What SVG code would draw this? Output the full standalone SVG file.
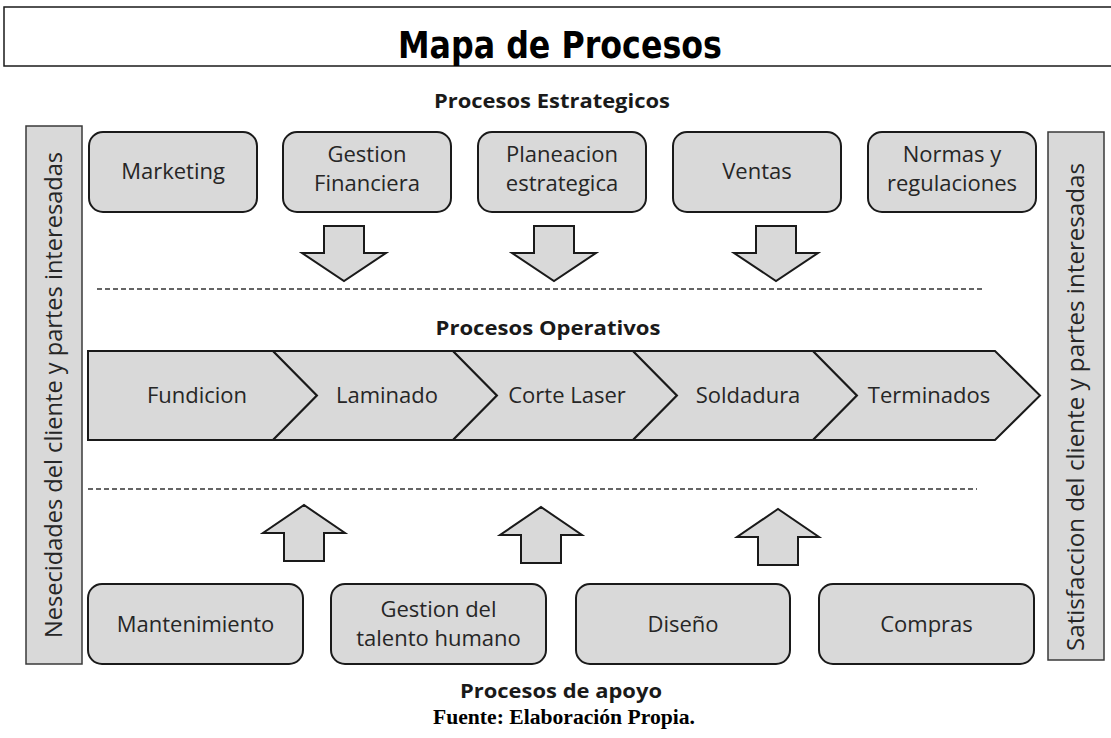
<svg xmlns="http://www.w3.org/2000/svg" width="1111" height="738" viewBox="0 0 1111 738">
<style>
.box{fill:#d9d9d9;stroke:#1a1a1a;stroke-width:2}
.bar{fill:#d9d9d9;stroke:#3a3a3a;stroke-width:1.5}
.arr{fill:#d9d9d9;stroke:#1a1a1a;stroke-width:2;stroke-linejoin:miter}
.chev{fill:#d9d9d9;stroke:#1a1a1a;stroke-width:2;stroke-linejoin:miter}
.t{font-family:"Open Sans","Noto Sans","Liberation Sans",sans-serif;font-size:22px;fill:#262626;text-anchor:middle}
.v{font-family:"Open Sans","Noto Sans","Liberation Sans",sans-serif;font-size:23px;fill:#262626;text-anchor:middle}
.h{font-family:"Open Sans","Noto Sans","Liberation Sans",sans-serif;font-size:19px;font-weight:bold;fill:#1a1a1a;text-anchor:middle}
.dash{stroke:#333;stroke-width:1.5;stroke-dasharray:5 3;fill:none}
</style>
<rect width="1111" height="738" fill="#fff"/>
<g id="title">
<rect x="4" y="7" width="1120" height="59" fill="#fff" stroke="#1a1a1a" stroke-width="1.5"/>
<text x="560" y="58" font-family="'DejaVu Sans Condensed','DejaVu Sans',sans-serif" font-weight="bold" font-size="38" fill="#000" text-anchor="middle" textLength="324" lengthAdjust="spacingAndGlyphs">Mapa de Procesos</text>
</g>
<g id="heading-estrategicos"><text class="h" x="552" y="108" textLength="236" lengthAdjust="spacingAndGlyphs">Procesos Estrategicos</text></g>
<g id="heading-operativos"><text class="h" x="548" y="335" textLength="225" lengthAdjust="spacingAndGlyphs">Procesos Operativos</text></g>
<g id="heading-apoyo"><text class="h" x="561" y="698" textLength="202" lengthAdjust="spacingAndGlyphs">Procesos de apoyo</text></g>
<g id="fuente"><text x="564" y="724" font-family="'Liberation Serif','Times New Roman',serif" font-weight="bold" font-size="20" fill="#000" text-anchor="middle" textLength="262" lengthAdjust="spacingAndGlyphs">Fuente: Elaboración Propia.</text></g>

<g id="bar-left">
<rect class="bar" x="26" y="126" width="56" height="538"/>
<text class="v" transform="translate(62,395) rotate(-90)" textLength="486" lengthAdjust="spacingAndGlyphs">Nesecidades del cliente y partes interesadas</text>
</g>
<g id="bar-right">
<rect class="bar" x="1048" y="132" width="56" height="528"/>
<text class="v" transform="translate(1084,407) rotate(-90)" textLength="488" lengthAdjust="spacingAndGlyphs">Satisfaccion del cliente y partes interesadas</text>
</g>

<g id="marketing"><rect class="box" x="89" y="132" width="168" height="80" rx="14"/><text class="t" x="173" y="179">Marketing</text></g>
<g id="gestion-financiera"><rect class="box" x="283" y="132" width="168" height="80" rx="14"/><text class="t" x="367" y="162">Gestion</text><text class="t" x="367" y="191">Financiera</text></g>
<g id="planeacion"><rect class="box" x="478" y="132" width="168" height="80" rx="14"/><text class="t" x="562" y="162">Planeacion</text><text class="t" x="562" y="191">estrategica</text></g>
<g id="ventas"><rect class="box" x="673" y="132" width="168" height="80" rx="14"/><text class="t" x="757" y="179">Ventas</text></g>
<g id="normas"><rect class="box" x="868" y="132" width="168" height="80" rx="14"/><text class="t" x="952" y="162">Normas y</text><text class="t" x="952" y="191">regulaciones</text></g>

<g id="connectors">
<line class="dash" x1="97" y1="289" x2="985" y2="289"/>
<line class="dash" x1="88" y1="489" x2="977" y2="489"/>
<polygon class="arr" points="324,226 364,226 364,253 386,253 344,281 302,253 324,253"/>
<polygon class="arr" points="534,226 574,226 574,253 596,253 554,281 512,253 534,253"/>
<polygon class="arr" points="756,226 796,226 796,253 818,253 776,281 734,253 756,253"/>
<polygon class="arr" points="284,561 324,561 324,533 345,533 304,505 263,533 284,533"/>
<polygon class="arr" points="521,563 561,563 561,535 582,535 541,507 500,535 521,535"/>
<polygon class="arr" points="758,565 798,565 798,537 819,537 778,509 737,537 758,537"/>
</g>

<g id="fundicion"><polygon class="chev" points="88,351 273,351 317,395.5 273,440 88,440"/><text class="t" x="197" y="403">Fundicion</text></g>
<g id="laminado"><polygon class="chev" points="273,351 453,351 497,395.5 453,440 273,440 317,395.5"/><text class="t" x="387" y="403">Laminado</text></g>
<g id="corte-laser"><polygon class="chev" points="453,351 633,351 677,395.5 633,440 453,440 497,395.5"/><text class="t" x="567" y="403">Corte Laser</text></g>
<g id="soldadura"><polygon class="chev" points="633,351 813,351 857,395.5 813,440 633,440 677,395.5"/><text class="t" x="748" y="403">Soldadura</text></g>
<g id="terminados"><polygon class="chev" points="813,351 995,351 1040,395.5 995,440 813,440 857,395.5"/><text class="t" x="929" y="403">Terminados</text></g>

<g id="mantenimiento"><rect class="box" x="88" y="584" width="215" height="80" rx="14"/><text class="t" x="195.5" y="632">Mantenimiento</text></g>
<g id="gestion-talento"><rect class="box" x="331" y="584" width="215" height="80" rx="14"/><text class="t" x="438.5" y="617">Gestion del</text><text class="t" x="438.5" y="646">talento humano</text></g>
<g id="diseno"><rect class="box" x="576" y="584" width="214" height="80" rx="14"/><text class="t" x="683" y="632">Diseño</text></g>
<g id="compras"><rect class="box" x="819" y="584" width="215" height="80" rx="14"/><text class="t" x="926.5" y="632">Compras</text></g>
</svg>
